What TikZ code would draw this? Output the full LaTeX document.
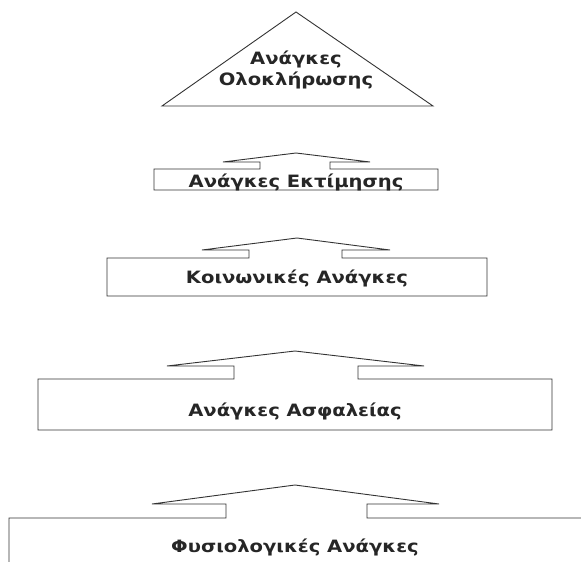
\documentclass[tikz,border=0pt]{standalone}
\usepackage{fontspec}
\setmainfont{DejaVu Sans}[FakeStretch=1.15]
\usetikzlibrary{positioning}

\begin{document}
\begin{tikzpicture}[
    x=1pt, y=-1pt,
    levline/.style={draw=black!80, line width=0.9pt, line join=miter},
    levtext/.style={font=\fontsize{17}{21}\selectfont\bfseries, text=black!85, align=center, inner sep=0pt}
]
\useasboundingbox (0,0) rectangle (581,562);

% top of the pyramid
\draw[levline] (162,106) -- (296,12) -- (433,106) -- cycle;
\node[levtext] (L5) at (296,70) {Ανάγκες\\Ολοκλήρωσης};

% esteem
\draw[levline] (260,169) -- (154,169) -- (154,190) -- (438,190) -- (438,169) -- (330,169)
    -- (330,162) -- (370,162) -- (296,153) -- (223,162) -- (260,162) -- cycle;
\node[levtext] (L4) at (296,182) {Ανάγκες Εκτίμησης};

% social
\draw[levline] (249,258) -- (107,258) -- (107,296) -- (487,296) -- (487,258) -- (342,258)
    -- (342,250) -- (390,250) -- (297,238) -- (202,250) -- (249,250) -- cycle;
\node[levtext] (L3) at (297,278) {Κοινωνικές Ανάγκες};

% safety
\draw[levline] (234,379) -- (38,379) -- (38,430) -- (552,430) -- (552,379) -- (358,379)
    -- (358,366) -- (424,366) -- (295,351) -- (167,366) -- (234,366) -- cycle;
\node[levtext] (L2) at (295,411) {Ανάγκες Ασφαλείας};

% physiological (runs off the page)
\draw[levline] (9,562) -- (9,518) -- (226,518) -- (226,504) -- (152,504) -- (295,485)
    -- (439,504) -- (367,504) -- (367,518) -- (581,518);
\node[levtext] (L1) at (295,547) {Φυσιολογικές Ανάγκες};
\end{tikzpicture}
\end{document}
